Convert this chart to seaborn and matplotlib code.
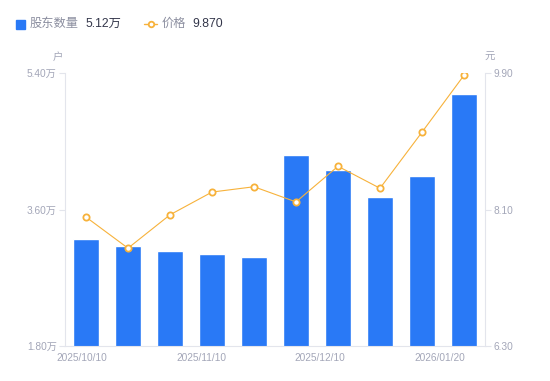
import numpy as np
import pandas as pd
import matplotlib
matplotlib.use('Agg')
import matplotlib.pyplot as plt
import seaborn as sns
from matplotlib.lines import Line2D
from matplotlib.patches import Rectangle

# data
dates = ['2025/10/10', '2025/10/20', '2025/10/31', '2025/11/10', '2025/11/20',
         '2025/11/28', '2025/12/10', '2025/12/19', '2025/12/31', '2026/01/20']
holders = [3.21, 3.12, 3.05, 3.01, 2.97, 4.32, 4.12, 3.77, 4.04, 5.12]  # 万户
price = [8.00, 7.59, 8.03, 8.33, 8.40, 8.20, 8.67, 8.38, 9.12, 9.87]  # 元
shown_dates = ['2025/10/10', '2025/11/10', '2025/12/10', '2026/01/20']

df = pd.DataFrame({'date': dates, 'holders': holders, 'price': price})
df['pos'] = np.arange(len(df))

sns.set_style('white')
plt.rcParams['font.family'] = ['Liberation Sans', 'Noto Sans CJK SC', 'DejaVu Sans']

blue = '#2979F6'
orange = '#F7B23B'
grey = '#A3A6B8'
axis_col = '#E3E5EC'

fig = plt.figure(figsize=(5.5, 3.81), dpi=100)
ax = fig.add_axes([65 / 550, 35 / 381, 420 / 550, 273 / 381])

sns.barplot(data=df, x='pos', y='holders', color=blue, width=0.6,
            saturation=1, ax=ax, native_scale=True)
ax.set_xlim(-0.5, 9.5)
ax.set_ylim(1.8, 5.4)
ax.set_yticks([1.8, 3.6, 5.4])
ax.set_yticklabels([f'{v:.2f}万' for v in [1.8, 3.6, 5.4]])
ax.set_xlabel('')
ax.set_ylabel('')

# date labels: tick positions laid out evenly like the original
ax.set_xticks([-0.1, 2.74, 5.57, 8.43])
ax.set_xticklabels(shown_dates)

ax2 = ax.twinx()
sns.lineplot(data=df, x='pos', y='price', color=orange, linewidth=0.8, ax=ax2,
             marker='o', markersize=4.5, markerfacecolor='white',
             markeredgecolor=orange, markeredgewidth=1.3)
ax2.set_ylim(6.3, 9.9)
ax2.set_yticks([6.3, 8.1, 9.9])
ax2.set_yticklabels([f'{v:.2f}' for v in [6.3, 8.1, 9.9]])
ax2.set_xlabel('')
ax2.set_ylabel('')
ax2.set_xlim(-0.5, 9.5)

for a in (ax, ax2):
    for s in a.spines.values():
        s.set_visible(False)
    a.tick_params(axis='both', colors=axis_col, labelcolor=grey, labelsize=7.3,
                  length=4, width=0.8, pad=2)
    a.grid(False)
ax.spines['left'].set_visible(True)
ax.spines['bottom'].set_visible(True)
ax2.spines['right'].set_visible(True)
for s in (ax.spines['left'], ax.spines['bottom'], ax2.spines['right']):
    s.set_color(axis_col)
    s.set_linewidth(0.8)
ax.tick_params(axis='x', length=0, pad=5)
ax2.tick_params(axis='x', length=0)

# unit labels
fig.text(58 / 550, 1 - 57 / 381, '户', color=grey, fontsize=7.5, ha='center', va='center')
fig.text(490 / 550, 1 - 57 / 381, '元', color=grey, fontsize=7.5, ha='center', va='center')

# legend row
ly = 1 - 24 / 381
fig.patches.append(Rectangle((16 / 550, ly - 4.5 / 381), 9 / 550, 9 / 381,
                             transform=fig.transFigure, color=blue, figure=fig))
fig.text(30 / 550, ly, '股东数量', color='#8C8FA0', fontsize=8.8, va='center')
fig.text(85 / 550, ly, f'{holders[-1]:.2f}万', color='#33364A', fontsize=8.8, va='center')
fig.lines.append(Line2D([144 / 550, 157 / 550], [ly, ly], transform=fig.transFigure,
                        color=orange, linewidth=1, figure=fig))
fig.lines.append(Line2D([150.5 / 550], [ly], transform=fig.transFigure, color=orange,
                        marker='o', markersize=4, markerfacecolor='white',
                        markeredgewidth=1.3, figure=fig))
fig.text(162 / 550, ly, '价格', color='#8C8FA0', fontsize=8.8, va='center')
fig.text(192 / 550, ly, f'{price[-1]:.3f}', color='#33364A', fontsize=8.8, va='center')

fig.savefig('out.png', dpi=100)
